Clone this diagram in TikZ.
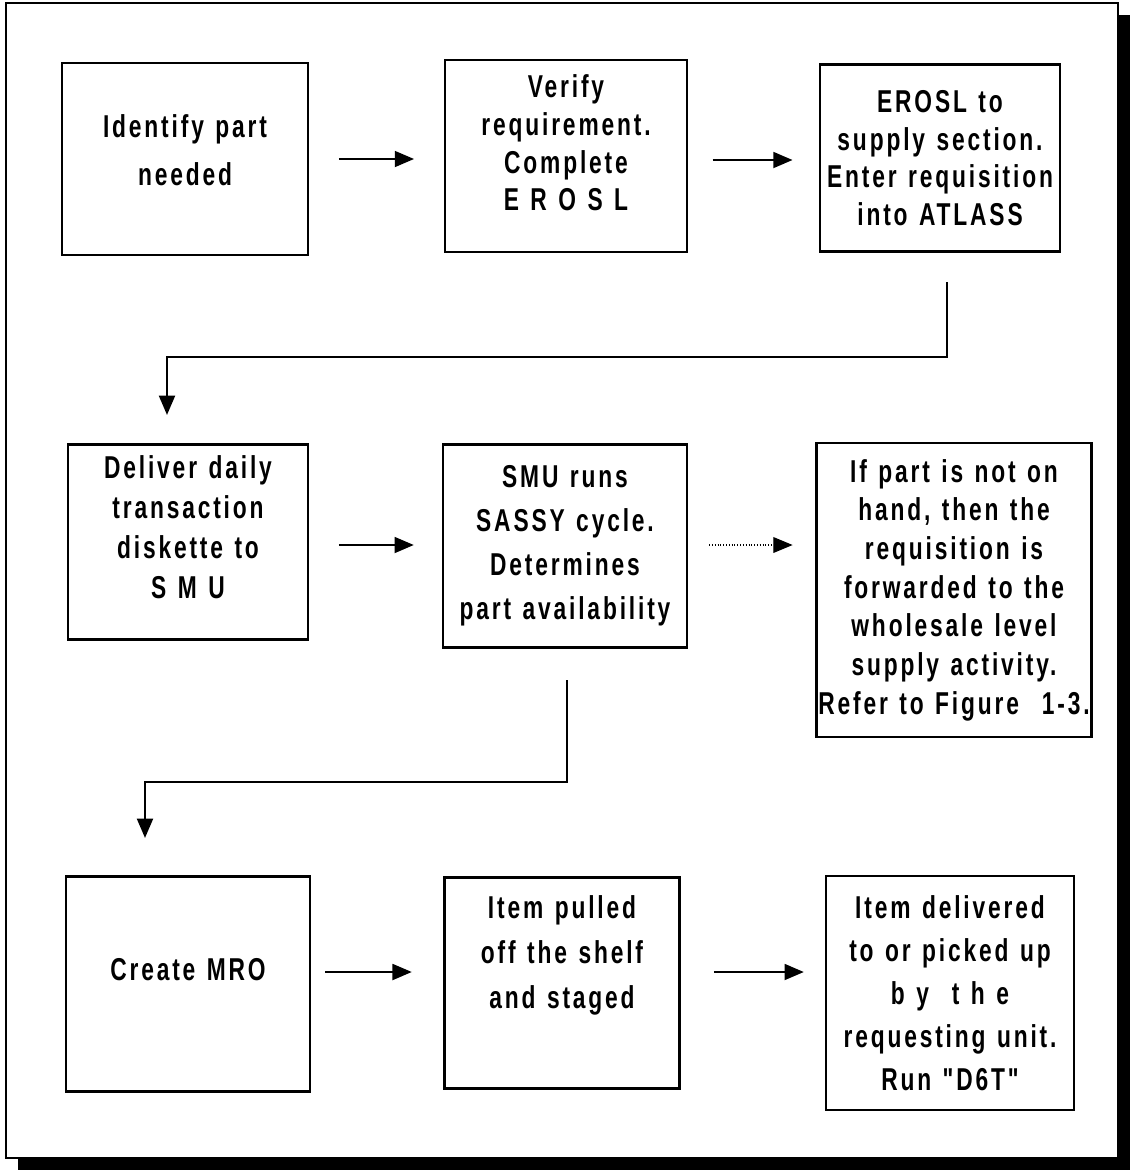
\documentclass[tikz,border=0pt]{standalone}
\usepackage{fontspec}
\newfontfamily\boxfont{Liberation Sans Bold}[FakeStretch=0.72,LetterSpace=9,WordSpace=1.25]
\usetikzlibrary{arrows.meta}

\tikzset{
  stepbox/.style={draw, line width=1.2pt, inner sep=0pt, align=center,
    font=\boxfont\fontsize{18}{#1}\selectfont},
  stepbox/.default=22,
  boxsize/.style 2 args={minimum width=#1*0.02cm, minimum height=#2*0.02cm},
  flow/.style={line width=1.4pt, -{Triangle[length=11pt,width=9pt]}},
  maybe/.style={line width=0.6pt, densely dotted, -{Triangle[length=11pt,width=9pt]}}
}

\begin{document}
\begin{tikzpicture}[x=0.02cm, y=-0.02cm]
    \useasboundingbox (0,0) rectangle (1130,1170);
    % frame with shadow
    \fill (18,1158) rectangle (1130,1170);
    \fill (1118,15) rectangle (1130,1170);
    \draw[line width=0.9pt] (6,3) rectangle (1118,1158);

    % first row
    \node[stepbox=27, boxsize={246}{192}, text depth=10pt] (identify) at (185,159) {Identify part\\needed};
    \node[stepbox=21.5, boxsize={242}{192}, text depth=15pt] (verify) at (566,156)
        {Verify\\requirement.\\Complete\\E R O S L};
    \node[stepbox=21.5, boxsize={240}{187}] (enter) at (940,158)
        {EROSL to\\supply section.\\Enter requisition\\into ATLASS};

    % second row
    \node[stepbox=22.7, boxsize={240}{195}, text depth=17pt] (deliver) at (188,542)
        {Deliver daily\\transaction\\diskette to\\S M U};
    \node[stepbox=25, boxsize={244}{203}] (sassy) at (565,546)
        {SMU runs\\SASSY cycle.\\Determines\\part availability};
    \node[stepbox=22, boxsize={275}{294}] (forward) at (954,590)
        {If part is not on\\hand, then the\\requisition is\\forwarded to the\\wholesale level\\supply activity.\\Refer to Figure~~1-3.};

    % third row
    \node[stepbox, boxsize={244}{215}, text depth=16pt] (mro) at (188,984) {Create MRO};
    \node[stepbox=25.5, boxsize={235}{211}, text depth=35pt] (pulled) at (562,983)
        {Item pulled\\off the shelf\\and staged};
    \node[stepbox=24.5, boxsize={248}{234}] (delivered) at (950,993)
        {Item delivered\\to or picked up\\b y~~t h e\\requesting unit.\\Run "D6T"};

    % arrows along the rows
    \draw[flow, shorten <=17pt, shorten >=17pt] (identify.east) -- (identify.east -| verify.west);
    \draw[flow, shorten <=14pt, shorten >=15pt] (verify.east) ++(0,4) -- (enter.west |- 0,160);
    \draw[flow, shorten <=17pt, shorten >=16pt] (deliver.east) ++(0,3) -- (sassy.west |- 0,545);
    \draw[maybe, shorten <=12pt, shorten >=13pt] (sassy.east) ++(0,-1) -- (forward.west |- 0,545);
    \draw[flow, shorten <=8pt, shorten >=18pt] (mro.east) ++(0,-12) -- (pulled.west |- 0,972);
    \draw[flow, shorten <=19pt, shorten >=12pt] (pulled.east) ++(0,-11) -- (delivered.west |- 0,972);

    % links between the rows
    \coordinate (up1) at (947,282);
    \coordinate (down1) at (167,415);
    \draw[flow] (up1) -- ++(0,75) -| (down1);
    \coordinate (up2) at (567,680);
    \coordinate (down2) at (145,838);
    \draw[flow] (up2) -- ++(0,102) -| (down2);
\end{tikzpicture}
\end{document}
